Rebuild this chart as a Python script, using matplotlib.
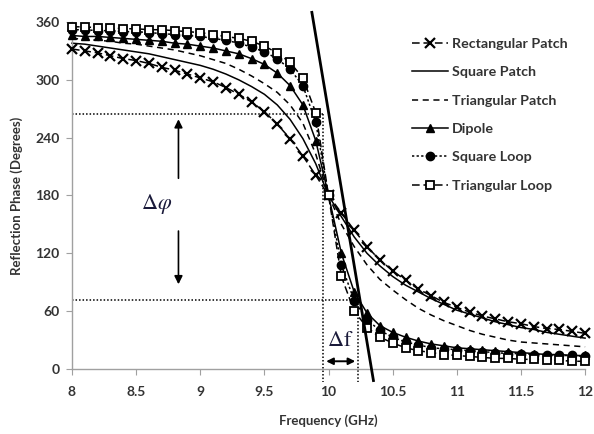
import matplotlib
matplotlib.use('Agg')
import matplotlib.pyplot as plt
import numpy as np

plt.rcParams['font.family'] = ['Lato', 'DejaVu Sans']
plt.rcParams['mathtext.fontset'] = 'stix'

# data: reflection phase (degrees), every 0.1 GHz
freq = np.round(np.arange(8.0, 12.01, 0.1), 1)

rect_patch = [332, 330, 328, 325, 322, 320, 317, 313, 310, 306, 302, 298, 292, 285, 277, 267, 254, 239, 221, 201, 180,
              162, 144, 127, 113, 102, 92, 83, 76, 69, 64, 59, 55, 52, 49, 47, 44, 42, 41, 39, 37]
square_patch = [338, 337, 335, 333, 331, 329, 327, 324, 321, 318, 315, 311, 306, 300, 293, 285, 274, 259, 239, 213, 180,
                158, 137, 120, 107, 96, 87, 80, 73, 67, 61, 57, 53, 49, 46, 43, 41, 38, 36, 34, 32]
tri_patch = [343, 342, 341, 340, 338, 337, 335, 333, 331, 328, 325, 321, 317, 311, 304, 296, 287, 274, 255, 223, 180,
             150, 127, 108, 93, 82, 72, 63, 56, 50, 45, 40, 36, 33, 30, 28, 27, 26, 25, 24, 23]
dipole = [346, 345, 345, 344, 343, 342, 341, 340, 338, 337, 335, 333, 330, 327, 322, 316, 307, 294, 274, 237, 180,
          120, 80, 58, 45, 38, 33, 29, 26, 24, 22, 21, 20, 19, 18, 17, 16, 15, 15, 14, 14]
square_loop = [352, 352, 351, 351, 350, 350, 349, 348, 347, 346, 345, 343, 341, 338, 334, 329, 322, 311, 294, 256, 180,
               108, 71, 51, 40, 33, 28, 25, 22, 21, 20, 19, 18, 17, 16, 16, 15, 15, 14, 14, 13]
tri_loop = [355, 355, 354, 354, 353, 353, 352, 352, 351, 350, 349, 347, 345, 343, 340, 335, 328, 318, 302, 266, 180,
            96, 60, 43, 33, 27, 22, 19, 17, 15, 14, 13, 12, 11, 11, 10, 10, 9, 9, 8, 8]

# annotation values
phase_hi = 265
phase_lo = 72
f_lo = 9.96
f_hi = 10.23
slope_line_f = [9.87, 10.35]
slope_line_p = [370, -12]

fig = plt.figure(figsize=(5.94, 4.34), dpi=100)
ax = fig.add_axes([0.1212, 0.1498, 0.8638, 0.7995])

lw = 1.1
ax.plot(freq, rect_patch, color='black', lw=lw, ls=(0, (5, 2.5)), marker='x', ms=6.5, mew=1.6,
        label='Rectangular Patch', clip_on=False, zorder=3)
ax.plot(freq, square_patch, color='black', lw=lw, ls='-', label='Square Patch', clip_on=False)
ax.plot(freq, tri_patch, color='black', lw=lw, ls=(0, (4, 3)), label='Triangular Patch', clip_on=False)
ax.plot(freq, dipole, color='black', lw=lw, ls='-', marker='^', ms=6, mfc='black',
        label='Dipole', clip_on=False, zorder=3)
ax.plot(freq, square_loop, color='black', lw=lw, ls=(0, (1.5, 1.5)), marker='o', ms=6, mfc='black',
        label='Square Loop', clip_on=False, zorder=3)
ax.plot(freq, tri_loop, color='black', lw=lw, ls=(0, (5, 2.5)), marker='s', ms=5.5, mfc='white', mew=1.3,
        label='Triangular Loop', clip_on=False, zorder=4)

# thick slope line
ax.plot(slope_line_f, slope_line_p, color='black', lw=2, clip_on=False, zorder=5)

# dotted guide lines
dot = dict(color='black', lw=1.1, ls=(0, (1, 1.3)), clip_on=False)
ax.plot([8, f_lo], [phase_hi, phase_hi], **dot)
ax.plot([8, f_hi], [phase_lo, phase_lo], **dot)
ax.plot([f_lo, f_lo], [phase_hi, -14], **dot)
ax.plot([f_hi, f_hi], [phase_lo, -14], **dot)

# delta phi arrows and text
arr = dict(arrowstyle='-|>', color='black', lw=1.2, mutation_scale=12)
ax.annotate('', xy=(8.83, 262), xytext=(8.83, 195), arrowprops=arr)
ax.annotate('', xy=(8.83, 85), xytext=(8.83, 146), arrowprops=arr)
ax.text(8.66, 171, r'$\Delta\varphi$', fontsize=16, ha='center', va='center', color='#1a1a3a')

# delta f double arrow and text
ax.annotate('', xy=(f_lo, 8), xytext=(f_hi, 8),
            arrowprops=dict(arrowstyle='<|-|>', color='black', lw=1.4, mutation_scale=10))
ax.text(10.09, 30, r'$\Delta\mathrm{f}$', fontsize=16, ha='center', va='center', color='#1a1a3a')

# axes styling (Excel-like)
ax.set_xlim(8, 12)
ax.set_ylim(0, 360)
ax.set_xticks([8, 8.5, 9, 9.5, 10, 10.5, 11, 11.5, 12])
ax.set_xticklabels(['8', '8.5', '9', '9.5', '10', '10.5', '11', '11.5', '12'])
ax.set_yticks([0, 60, 120, 180, 240, 300, 360])
for s in ['top', 'right']:
    ax.spines[s].set_visible(False)
for s in ['left', 'bottom']:
    ax.spines[s].set_color('#a0a0a0')
    ax.spines[s].set_linewidth(1)
ax.tick_params(axis='both', colors='#a0a0a0', labelcolor='#333333', labelsize=10, length=4)
ax.tick_params(axis='x', pad=8)
ax.tick_params(axis='y', pad=5)
for t in ax.get_xticklabels() + ax.get_yticklabels():
    t.set_fontweight('bold')

ax.set_xlabel('Frequency (GHz)', fontsize=9.5, fontweight='bold', color='#333333', labelpad=12)
ax.set_ylabel('Reflection Phase (Degrees)', fontsize=9.5, fontweight='bold', color='#333333', labelpad=9)

# legend
handles, labels = ax.get_legend_handles_labels()
leg = fig.legend(handles, labels, loc='upper left', bbox_to_anchor=(0.672, 0.942), frameon=False,
                 handlelength=2.5, handletextpad=0.3, labelspacing=1.14,
                 prop={'weight': 'bold', 'size': 10.3})
for t in leg.get_texts():
    t.set_color('#333333')

plt.savefig('out.png', dpi=100)
